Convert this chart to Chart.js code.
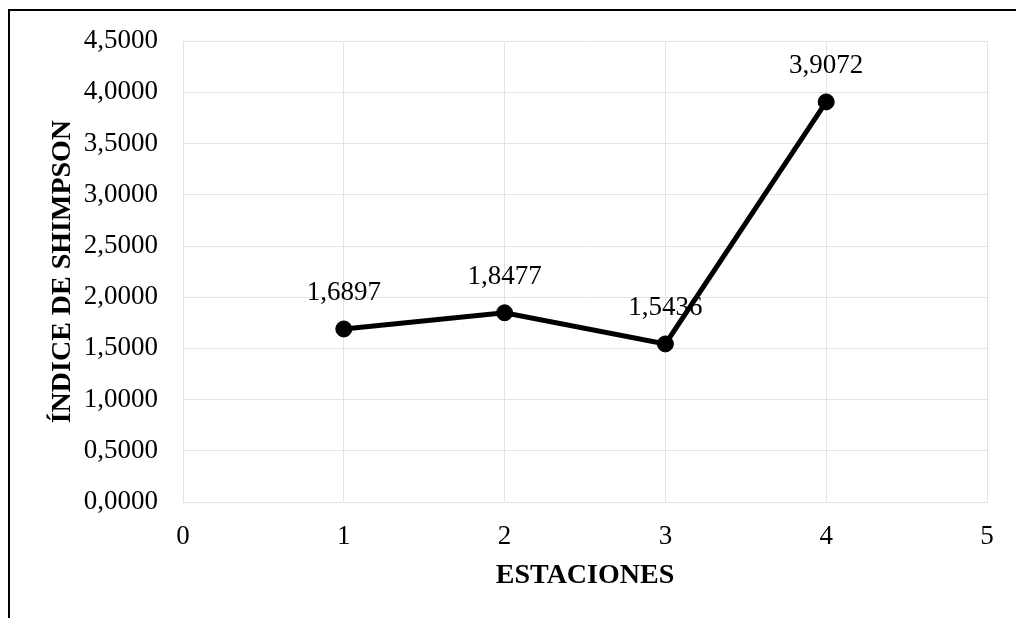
<!DOCTYPE html>
<html>
<head>
<meta charset="utf-8">
<script src="https://cdn.jsdelivr.net/npm/chart.js@4/dist/chart.umd.min.js"></script>
<style>
  html, body { margin: 0; padding: 0; background: #fff; }
  #wrap { position: relative; width: 1016px; height: 618px; overflow: hidden; }
  #frame {
    position: absolute; left: 8px; top: 9px; width: 1100px; height: 700px;
    border-left: 2px solid #000; border-top: 2px solid #000;
  }
  #chart { position: absolute; left: 0; top: 0; }
</style>
</head>
<body>
<div id="wrap">
  <div id="frame"></div>
  <canvas id="chart" width="1016" height="618"></canvas>
</div>
<script>
const estaciones = [1, 2, 3, 4];
const indiceShimpson = [1.6897, 1.8477, 1.5436, 3.9072];
const xTitle = 'ESTACIONES';
const yTitle = 'ÍNDICE DE SHIMPSON';

const FONT = 'Liberation Serif';
const fmt = (v, d) => v.toFixed(d).replace('.', ',');

// value labels above each point
const pointLabels = {
  id: 'pointLabels',
  afterDatasetsDraw(chart) {
    const ctx = chart.ctx;
    const meta = chart.getDatasetMeta(0);
    ctx.save();
    ctx.font = '27px "' + FONT + '"';
    ctx.fillStyle = '#000';
    ctx.textAlign = 'center';
    ctx.textBaseline = 'middle';
    meta.data.forEach((pt, i) => {
      ctx.fillText(fmt(indiceShimpson[i], 4), pt.x, pt.y - 36);
    });
    ctx.restore();
  }
};

const gridColor = '#e3e3e3';

new Chart(document.getElementById('chart'), {
  type: 'line',
  plugins: [pointLabels],
  data: {
    datasets: [{
      data: estaciones.map((x, i) => ({ x: x, y: indiceShimpson[i] })),
      borderColor: '#000',
      backgroundColor: '#000',
      borderWidth: 5,
      pointRadius: 8,
      pointBorderWidth: 1,
      pointBackgroundColor: '#000',
      pointBorderColor: '#000',
      tension: 0,
    }]
  },
  options: {
    responsive: false,
    animation: false,
    layout: {
      padding: { top: 40, right: 29, bottom: 0, left: 0 }
    },
    scales: {
      x: {
        type: 'linear',
        min: 0,
        max: 5,
        afterFit: (scale) => { scale.height = 116; },
        grid: { color: gridColor, drawTicks: false },
        border: { color: gridColor },
        ticks: {
          stepSize: 1,
          padding: 19,
          color: '#000',
          font: { family: FONT, size: 27 },
          callback: (v) => String(v),
        },
        title: {
          display: true,
          text: xTitle,
          color: '#000',
          padding: { top: 0, bottom: 25 },
          font: { family: FONT, size: 28, weight: 'bold' },
        },
      },
      y: {
        min: 0,
        max: 4.5,
        afterFit: (scale) => { scale.width = 183; },
        grid: { color: gridColor, drawTicks: false },
        border: { color: gridColor },
        ticks: {
          stepSize: 0.5,
          padding: 25,
          color: '#000',
          font: { family: FONT, size: 27 },
          callback: (v) => fmt(v, 4),
        },
        title: {
          display: true,
          text: yTitle,
          color: '#000',
          padding: { top: 46, bottom: 0 },
          font: { family: FONT, size: 28, weight: 'bold' },
        },
      },
    },
    plugins: {
      legend: { display: false },
      tooltip: { enabled: false },
    },
  },
});
</script>
</body>
</html>
